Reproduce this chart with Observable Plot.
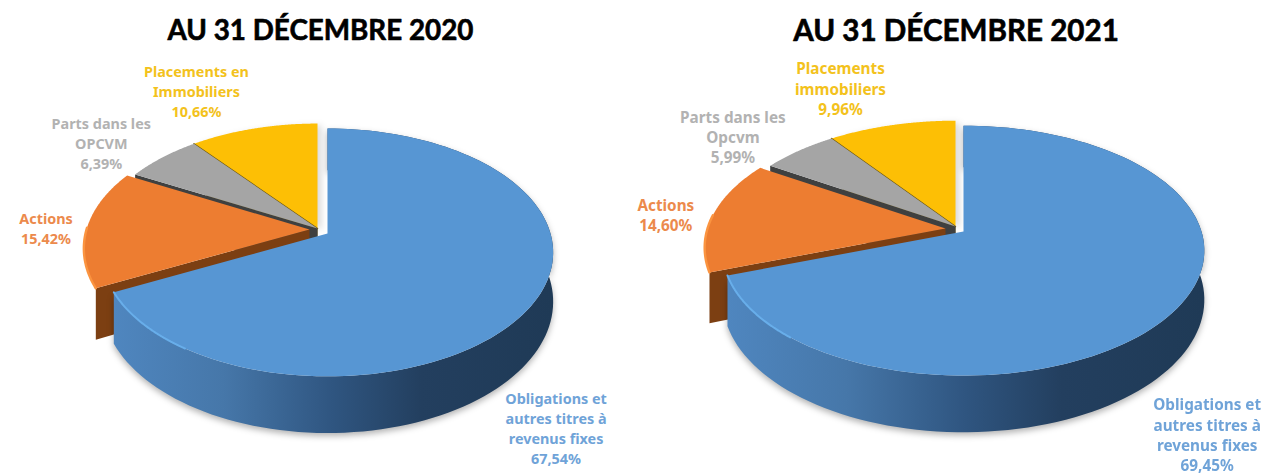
<!DOCTYPE html>
<html><head><meta charset="utf-8">
<style>
html,body{margin:0;padding:0;background:#fff}
svg{display:block;filter:blur(.45px)}
.shadow{filter:drop-shadow(0 3px 3px rgba(0,0,0,.3))}
.soft{filter:drop-shadow(4px 2px 3px rgba(0,0,0,.14))}
</style>
<script src="https://cdn.jsdelivr.net/npm/d3@7"></script>
<script src="https://cdn.jsdelivr.net/npm/@observablehq/plot@0.6"></script>
</head><body><div id="chart"></div>
<script>
const titles = ["AU 31 DÉCEMBRE 2020", "AU 31 DÉCEMBRE 2021"];
const values2020 = [67.54, 15.42, 6.39, 10.66];
const values2021 = [69.45, 14.60, 5.99, 9.96];
const labels2020 = ["Obligations et\nautres titres à\nrevenus fixes\n67,54%", "Actions\n15,42%", "Parts dans les\nOPCVM\n6,39%", "Placements en\nImmobiliers\n10,66%"];
const labels2021 = ["Obligations et\nautres titres à\nrevenus fixes\n69,45%", "Actions\n14,60%", "Parts dans les\nOpcvm\n5,99%", "Placements\nimmobiliers\n9,96%"];

// layout only
const topColors = ["#5796d3", "#ed7d31", "#a5a5a5", "#fdbf05"];
const wallColors = ["url(#blueSide)", "#7c3f12", "#3f4040", "#6f5a10"];
const textColors = ["#6fa3d8", "#ec8a4c", "#b2b2b2", "#f3c21c"];
const pies = [
  {title: titles[0], titleX: 320, titleSize: 27.8, labelSize: 14.4, values: values2020, labels: labels2020, cx: 327, cy: 233, A: 223, R: 121,
   offsets: [[0,0],[-18,-4],[-10,-5],[-10,-5]], nudge: [[22,125],[-41,0],[-61,-15],[-57,-38]]},
  {title: titles[1], titleX: 955.5, titleSize: 29.6, labelSize: 15.3, values: values2021, labels: labels2021, cx: 963, cy: 231, A: 238, R: 122,
   offsets: [[0,0],[-18,-3],[-8,-5],[-8,-5]], nudge: [[30,126],[-47,-1],[-66,-14],[-51,-37]]}
];
const k = 0.153, depth = 48;

function rim(p, off, deg, drop = 0) {
  const a = deg * Math.PI / 180, u = Math.sin(a), v = -Math.cos(a), w = 1 - k * v;
  return {x: p.cx + off[0] + p.A * u / w, y: p.cy + off[1] + p.R * v / w + drop / w};
}
function arc(p, off, d0, d1, drop = 0) {
  return d3.range(0, 121).map(i => rim(p, off, d0 + (d1 - d0) * i / 120, drop));
}
const apex = (p, off, drop = 0) => ({x: p.cx + off[0], y: p.cy + off[1] + drop});

const marks = [];
marks.push(() => {
  const ns = "http://www.w3.org/2000/svg";
  const defs = document.createElementNS(ns, "defs");
  const g = document.createElementNS(ns, "linearGradient");
  g.setAttribute("id", "blueSide");
  g.setAttribute("x1", "0"); g.setAttribute("x2", "1"); g.setAttribute("y1", "0"); g.setAttribute("y2", "0");
  [[0, "#4f86bf"], [.25, "#4677a9"], [.5, "#2f5580"], [.7, "#233f5f"], [1, "#1f3a56"]].forEach(([o, c]) => {
    const s = document.createElementNS(ns, "stop");
    s.setAttribute("offset", o); s.setAttribute("stop-color", c); g.appendChild(s);
  });
  defs.appendChild(g);
  return defs;
});

for (const p of pies) {
  const total = d3.sum(p.values);
  const edges = d3.cumsum(p.values).map(v => v / total * 360);
  const slices = p.values.map((v, i) => ({i, d0: i ? edges[i - 1] : 0, d1: edges[i]}));
  const draw = [3, 2, 1, 0].map(i => slices[i]);
  for (const s of draw) {
    const off = p.offsets[s.i];
    const wall = [apex(p, off), rim(p, off, s.d0), rim(p, off, s.d0, depth), apex(p, off, depth)];
    const side = [...arc(p, off, s.d0, s.d1), ...arc(p, off, s.d0, s.d1, depth).reverse()];
    const top = [apex(p, off), ...arc(p, off, s.d0, s.d1)];
    if (s.i === 0) {
      marks.push(Plot.line(side, {x: "x", y: "y", fill: wallColors[0], stroke: "none", className: "shadow"}));
    }
    marks.push(Plot.line(wall, {x: "x", y: "y", fill: s.i === 0 ? "#3d6f9f" : wallColors[s.i], stroke: "none"}));
    marks.push(Plot.line(top, {x: "x", y: "y", fill: topColors[s.i], stroke: "none", className: s.i === 3 ? "soft" : undefined}));
    if (s.i === 3) {
      marks.push(Plot.line([apex(p, off), rim(p, off, s.d0)], {x: "x", y: "y", stroke: wallColors[3], strokeWidth: 1.4}));
    }
    if (s.i === 0) {
      marks.push(Plot.line(arc(p, off, s.d0 + (s.d1 - s.d0) * 0.88, s.d1), {x: "x", y: "y", stroke: "#68aeea", strokeWidth: 2}));
    }
    if (s.i === 1) {
      marks.push(Plot.line(arc(p, off, s.d0, s.d0 + (s.d1 - s.d0) * 0.5), {x: "x", y: "y", stroke: "#fb9440", strokeWidth: 2.4}));
    }
  }
  slices.forEach(s => {
    const at = rim(p, p.offsets[s.i], (s.d0 + s.d1) / 2);
    marks.push(Plot.text([p.labels[s.i]], {
      x: () => at.x, y: () => at.y, dx: p.nudge[s.i][0], dy: p.nudge[s.i][1],
      text: d => d, fill: textColors[s.i], fontSize: p.labelSize, fontWeight: 700, lineHeight: 20.2 / p.labelSize,
      fontFamily: "'Noto Sans', sans-serif", textAnchor: "middle"
    }));
  });
  marks.push(Plot.text([p.title], {
    x: () => p.titleX, y: () => 0, dy: 31, text: d => d, fill: "#000", stroke: "#000", strokeWidth: 0.6, fontSize: p.titleSize, fontWeight: 700,
    fontFamily: "Lato, sans-serif", textAnchor: "middle"
  }));
}

const chart = Plot.plot({
  width: 1267, height: 473, margin: 0,
  x: {type: "linear", domain: [0, 1267], range: [0, 1267], axis: null},
  y: {type: "linear", domain: [0, 473], range: [0, 473], axis: null},
  style: {background: "#fff", overflow: "visible"},
  marks
});
document.getElementById("chart").appendChild(chart);
</script></body></html>
